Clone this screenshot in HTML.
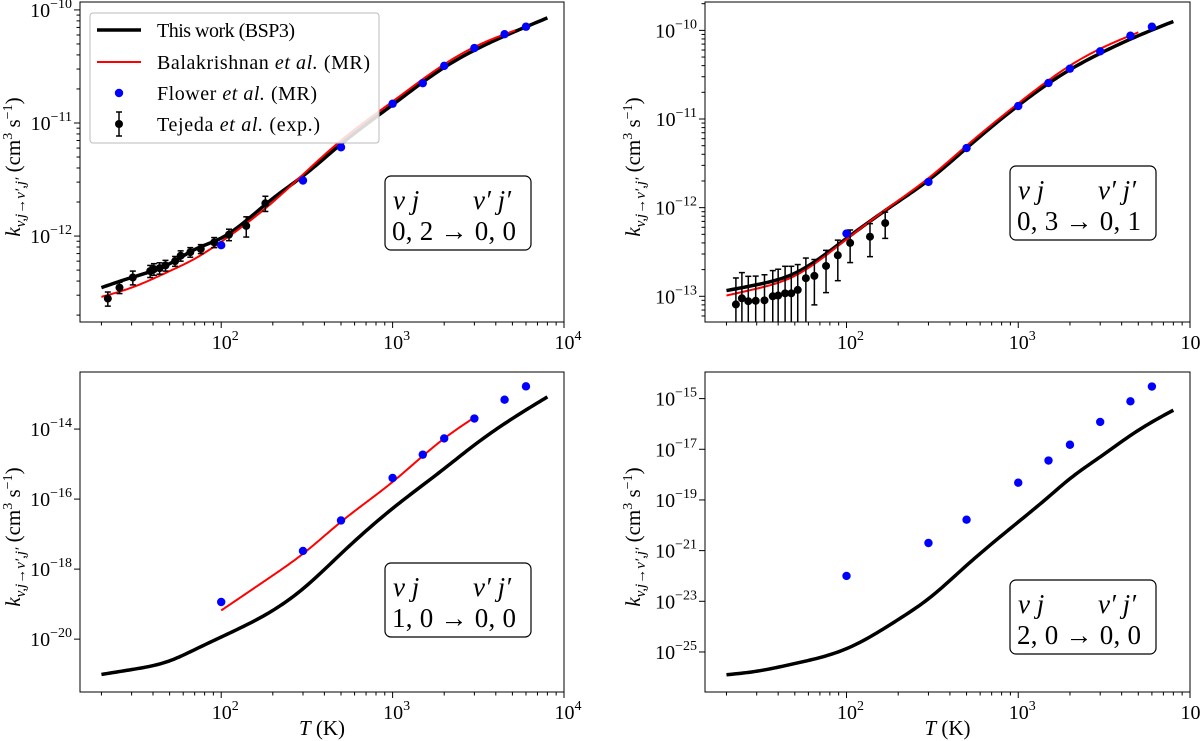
<!DOCTYPE html>
<html><head><meta charset="utf-8"><style>
body{margin:0;background:#fff}
svg{display:block;font-family:"Liberation Serif",serif}
</style></head><body>
<svg id="fig" width="1200" height="741" viewBox="0 0 1200 741" xmlns="http://www.w3.org/2000/svg"></svg>
<script>
// ---- data ----
const flowerT=[100,300,500,1000,1500,2000,3000,4500,6000];
const tlBlackT=[20,30,50,70,100,200,300,500,1000,2000,3000,5000,8000];
const tlBlackK=[3.5e-13,4.3e-13,5.7e-13,7.6e-13,9.6e-13,2.15e-12,3.4e-12,6.5e-12,1.45e-11,3.1e-11,4.4e-11,6.3e-11,8.5e-11];
const tlRedT=[20,30,50,70,100,200,300,500,1000,2000,3000,5200];
const tlRedK=[2.9e-13,3.5e-13,4.9e-13,6.3e-13,8.9e-13,2.0e-12,3.5e-12,7.0e-12,1.55e-11,3.3e-11,4.7e-11,6.6e-11];
const tlFlowerK=[8.3e-13,3.1e-12,6.1e-12,1.48e-11,2.25e-11,3.2e-11,4.6e-11,6.1e-11,7.1e-11];
const tlExpT=[21.8,25.5,30.5,38.5,40.5,43.7,47.3,53.8,58,66,76,91,111,140,181];
const tlExpK=[2.8e-13,3.5e-13,4.3e-13,4.9e-13,5.1e-13,5.2e-13,5.5e-13,6.0e-13,6.7e-13,7.2e-13,7.7e-13,8.8e-13,1.03e-12,1.23e-12,1.95e-12];
const tlExpErr=[0.4e-13,0.4e-13,0.6e-13,0.6e-13,0.6e-13,0.6e-13,0.6e-13,0.6e-13,0.7e-13,0.7e-13,0.7e-13,0.9e-13,1.2e-13,2.5e-13,3e-13];
const trBlackT=[20,30,50,100,200,300,500,1000,2000,3000,5000,8000];
const trBlackK=[1.16e-13,1.35e-13,1.82e-13,4.5e-13,1.17e-12,2.04e-12,4.7e-12,1.42e-11,3.6e-11,5.5e-11,8.7e-11,1.26e-10];
const trRedT=[20,30,50,100,200,300,500,1000,2000,3000,5000];
const trRedK=[1.02e-13,1.22e-13,1.7e-13,4.4e-13,1.2e-12,2.15e-12,5.0e-12,1.5e-11,4.0e-11,6.2e-11,9.5e-11];
const trFlowerK=[5.1e-13,1.95e-12,4.7e-12,1.4e-11,2.55e-11,3.7e-11,5.8e-11,8.7e-11,1.1e-10];
const trExpT=[22.7,24.6,26.8,29.6,33.3,37.2,40,43.9,47.7,52,58,65,76,89,105,137,168];
const trExpK=[8.1e-14,9.5e-14,8.8e-14,8.9e-14,9.0e-14,1.0e-13,1.02e-13,1.08e-13,1.08e-13,1.18e-13,1.6e-13,1.7e-13,2.2e-13,2.9e-13,4.0e-13,4.7e-13,6.7e-13];
const trExpErr=[8e-14,9e-14,8e-14,8e-14,8.5e-14,9.5e-14,1e-13,1.1e-13,1.1e-13,1.1e-13,1.1e-13,0.9e-13,1.1e-13,1.4e-13,1.6e-13,1.9e-13,2.2e-13];
const blBlackT=[20,30,50,70,100,200,300,500,1000,2000,3000,5000,8000];
const blBlackK=[9.8e-22,1.35e-21,2.4e-21,5.0e-21,1.15e-20,6.6e-20,2.75e-19,2.75e-18,5.4e-17,7.4e-16,3.5e-15,2.0e-14,8.3e-14];
const blRedT=[100,200,300,500,1000,2000,3000];
const blRedK=[6.6e-20,6.6e-19,2.75e-18,2.24e-17,3.1e-16,5.4e-15,2.14e-14];
const blFlowerK=[1.15e-19,3.3e-18,2.45e-17,4.0e-16,1.86e-15,5.4e-15,2.0e-14,6.9e-14,1.66e-13];
const brBlackT=[20,30,50,100,200,300,500,1000,1500,2000,3000,5000,8000];
const brBlackK=[1.26e-26,1.74e-26,3.5e-26,1.35e-25,1.9e-24,1.26e-23,2.6e-22,1.35e-20,1.32e-19,6.9e-19,5.0e-18,5.6e-17,3.5e-16];
const brFlowerK=[1.0e-22,2.0e-21,1.66e-20,4.8e-19,3.6e-18,1.51e-17,1.2e-16,7.8e-16,3.0e-15];
const xTickExps=[2,3,4];
const tlYTickExps=[-10,-11,-12];
const trYTickExps=[-10,-11,-12,-13];
const blYTickExps=[-14,-16,-18,-20];
const brYTickExps=[-15,-17,-19,-21,-23,-25];

const NS="http://www.w3.org/2000/svg";
const svg=document.getElementById('fig');
function mk(tag,attrs,parent){const e=document.createElementNS(NS,tag);for(const k in attrs)e.setAttribute(k,attrs[k]);(parent||svg).appendChild(e);return e;}

function spline(xs,ys){
  const n=xs.length,h=[],al=[],l=[1],mu=[0],z=[0],c=new Array(n).fill(0),b=[],d=[];
  for(let i=0;i<n-1;i++)h.push(xs[i+1]-xs[i]);
  for(let i=1;i<n-1;i++)al[i]=3/h[i]*(ys[i+1]-ys[i])-3/h[i-1]*(ys[i]-ys[i-1]);
  for(let i=1;i<n-1;i++){l[i]=2*(xs[i+1]-xs[i-1])-h[i-1]*mu[i-1];mu[i]=h[i]/l[i];z[i]=(al[i]-h[i-1]*z[i-1])/l[i];}
  for(let j=n-2;j>=0;j--){c[j]=z[j]-mu[j]*c[j+1];b[j]=(ys[j+1]-ys[j])/h[j]-h[j]*(c[j+1]+2*c[j])/3;d[j]=(c[j+1]-c[j])/(3*h[j]);}
  return x=>{let i=0;while(i<n-2&&x>xs[i+1])i++;const t=x-xs[i];return ys[i]+b[i]*t+c[i]*t*t+d[i]*t*t*t;};
}

function panel(cfg){
  const g=mk('g',{});
  
  
  const L=cfg.L,R=cfg.R,T=cfg.T,B=cfg.B;
  const xl=Math.log10(cfg.xmin),xr=4;
  const X=v=>L+(Math.log10(v)-xl)/(xr-xl)*(R-L);
  const Y=v=>B-(Math.log10(v)-cfg.ymin)/(cfg.ymax-cfg.ymin)*(B-T);
  const cp=mk('clipPath',{id:'c'+cfg.id},g);mk('rect',{x:L,y:T,width:R-L,height:B-T},cp);
  for(let d=1;d<4;d++)for(let m=1;m<10;m++){const v=m*Math.pow(10,d);if(v<cfg.xmin||v>10000)continue;const x=X(v);const major=m===1;
    const t=mk('line',{x1:x,x2:x,y1:B,y2:B+(major?6:3.5),stroke:'#000','stroke-width':1},g);
    }
  mk('line',{x1:X(10000),x2:X(10000),y1:B,y2:B+6,stroke:'#000'},g);
  xTickExps.forEach(e=>{const t=mk('text',{x:X(Math.pow(10,e))+4,y:B+27,'text-anchor':'middle','font-size':20},g);
    
    t.appendChild(document.createTextNode('10'));const s=mk('tspan',{dy:-9,'font-size':14},t);s.textContent=String(e);});
  if(cfg.yminor){for(let d=Math.floor(cfg.ymin);d<cfg.ymax;d++)for(let m=2;m<10;m++){const lv=d+Math.log10(m);if(lv<cfg.ymin||lv>cfg.ymax)continue;const y=Y(Math.pow(10,lv));
    const t=mk('line',{x1:L-3.5,x2:L,y1:y,y2:y,stroke:'#000'},g);}}
  cfg.yt.forEach(e=>{const y=Y(Math.pow(10,e));mk('line',{x1:L-6,x2:L,y1:y,y2:y,stroke:'#000'},g);
    const t=mk('text',{x:L-8,y:y+7,'text-anchor':'end','font-size':20},g);
    
    t.appendChild(document.createTextNode('10'));const s=mk('tspan',{dy:-9,'font-size':14},t);s.textContent='\u2212'+Math.abs(e);});
  const yl=mk('text',{transform:`translate(${cfg.ylx},${(T+B)/2+5}) rotate(-90)`,'text-anchor':'middle','font-size':21},g);
  
  const k1=mk('tspan',{'font-style':'italic'},yl);k1.textContent='k';
  const k2=mk('tspan',{'font-size':15,dy:5,'font-style':'italic'},yl);k2.textContent='v,j\u2192v\u2032,j\u2032';
  const k3=mk('tspan',{dy:-5},yl);k3.textContent=' (cm';
  const k4=mk('tspan',{dy:-8,'font-size':14},yl);k4.textContent='3';
  const k5=mk('tspan',{dy:8},yl);k5.textContent=' s';
  const k6=mk('tspan',{dy:-8,'font-size':14},yl);k6.textContent='\u22121';
  const k7=mk('tspan',{dy:8},yl);k7.textContent=')';
  if(cfg.xlabel){const xt=mk('text',{x:(L+R)/2,y:B+43,'text-anchor':'middle','font-size':21},g);
    
    const a=mk('tspan',{'font-style':'italic'},xt);a.textContent='T';const b=mk('tspan',{},xt);b.textContent=' (K)';}
  const pg=mk('g',{'clip-path':`url(#c${cfg.id})`},g);
  function curve(Ts,Ks,color,w,name){
    const xs=Ts.map(X),ys=Ks.map(Y);const f=spline(xs,ys);
    const N=160;let d='';
    for(let i=0;i<=N;i++){const x=xs[0]+(xs[xs.length-1]-xs[0])*i/N;d+=(i?' L':'M')+x.toFixed(2)+','+f(x).toFixed(2);}
    const e=mk('path',{d:d,fill:'none',stroke:color,'stroke-width':w,'stroke-linejoin':'round'},pg);
    }
  if(cfg.black)curve(cfg.black[0],cfg.black[1],'#000',3.5,'this-work-curve');
  if(cfg.red)curve(cfg.red[0],cfg.red[1],'#f00',2,'balakrishnan-curve');
  if(cfg.exp){cfg.exp[0].forEach((t,i)=>{const x=X(t),k=cfg.exp[1][i],er=cfg.exp[2][i];
    const y1=Y(k+er),y2=k-er>0?Y(k-er):B+20;
    const eb=mk('g',{},pg);
    mk('line',{x1:x,x2:x,y1:y1,y2:y2,stroke:'#000','stroke-width':1.5},eb);
    mk('line',{x1:x-3,x2:x+3,y1:y1,y2:y1,stroke:'#000','stroke-width':1.5},eb);
    mk('line',{x1:x-3,x2:x+3,y1:y2,y2:y2,stroke:'#000','stroke-width':1.5},eb);
    mk('circle',{cx:x,cy:Y(k),r:4,fill:'#000'},eb);});}
  flowerT.forEach((t,i)=>{const c=mk('circle',{cx:X(t),cy:Y(cfg.flower[i]),r:4.2,fill:'#0000ff'},pg);
    });
  mk('rect',{x:L,y:T,width:R-L,height:B-T,fill:'none',stroke:'#000','stroke-width':1},g);
  const a=cfg.ann;const ag=mk('g',{},g);
  mk('rect',{x:a[0],y:a[1],width:146,height:74,rx:6,fill:'#fff',stroke:'#000','stroke-width':1.2},ag);
  const t1=mk('text',{x:a[0]+8,y:a[1]+33,'font-size':27,'font-style':'italic'},ag);t1.textContent='v j';
  const t1b=mk('text',{x:a[0]+88,y:a[1]+33,'font-size':27,'font-style':'italic'},ag);t1b.textContent='v\u2032 j\u2032';
  const t2=mk('text',{x:a[0]+7,y:a[1]+64,'font-size':27,textLength:124},ag);t2.textContent=a[2];
}

panel({id:1,name:'panel-0-2-to-0-0',L:80,R:564,T:2,B:322,xmin:15,ymin:-12.76,ymax:-9.93,yminor:true,yt:tlYTickExps,ylx:20,
  black:[tlBlackT,tlBlackK],red:[tlRedT,tlRedK],flower:tlFlowerK,exp:[tlExpT,tlExpK,tlExpErr],ann:[385,176,'0, 2 \u2192 0, 0']});
panel({id:2,name:'panel-0-3-to-0-1',L:705,R:1190,T:2,B:322,xmin:15,ymin:-13.29,ymax:-9.68,yminor:true,yt:trYTickExps,ylx:640,
  black:[trBlackT,trBlackK],red:[trRedT,trRedK],flower:trFlowerK,exp:[trExpT,trExpK,trExpErr],ann:[1010,166,'0, 3 \u2192 0, 1']});
panel({id:3,name:'panel-1-0-to-0-0',L:80,R:564,T:372,B:692,xmin:15,ymin:-21.51,ymax:-12.37,yminor:false,yt:blYTickExps,ylx:20,xlabel:true,
  black:[blBlackT,blBlackK],red:[blRedT,blRedK],flower:blFlowerK,ann:[385,563,'1, 0 \u2192 0, 0']});
panel({id:4,name:'panel-2-0-to-0-0',L:705,R:1190,T:372,B:692,xmin:15,ymin:-26.58,ymax:-13.95,yminor:false,yt:brYTickExps,ylx:640,xlabel:true,
  black:[brBlackT,brBlackK],flower:brFlowerK,ann:[1010,580,'2, 0 \u2192 0, 0']});

const lg=mk('g',{});
mk('rect',{x:90,y:13,width:289,height:130,rx:3,fill:'#fff','fill-opacity':0.85,stroke:'#bbb'},lg);
const labels=[['This work (BSP3)','',''],['Balakrishnan ','et al.',' (MR)'],['Flower ','et al.',' (MR)'],['Tejeda ','et al.',' (exp.)']];
const lens=[138,213,160,163];
const ys=[30,62,93,124];
ys.forEach((y,i)=>{const e=mk('g',{},lg);
  if(i===0)mk('line',{x1:97,x2:141,y1:y,y2:y,stroke:'#000','stroke-width':3.5},e);
  if(i===1)mk('line',{x1:97,x2:141,y1:y,y2:y,stroke:'#f00','stroke-width':2},e);
  if(i===2)mk('circle',{cx:119,cy:y,r:4.2,fill:'#00f'},e);
  if(i===3){mk('line',{x1:119,x2:119,y1:y-12,y2:y+12,stroke:'#000','stroke-width':1.5},e);mk('line',{x1:116,x2:122,y1:y-12,y2:y-12,stroke:'#000','stroke-width':1.5},e);mk('line',{x1:116,x2:122,y1:y+12,y2:y+12,stroke:'#000','stroke-width':1.5},e);mk('circle',{cx:119,cy:y,r:4,fill:'#000'},e);}
  const t=mk('text',{x:157,y:y+7,'font-size':20,textLength:lens[i]},e);
  t.appendChild(document.createTextNode(labels[i][0]));
  if(labels[i][1]){const s=mk('tspan',{'font-style':'italic'},t);s.textContent=labels[i][1];t.appendChild(document.createTextNode(labels[i][2]));}
});
</script>
</body></html>
